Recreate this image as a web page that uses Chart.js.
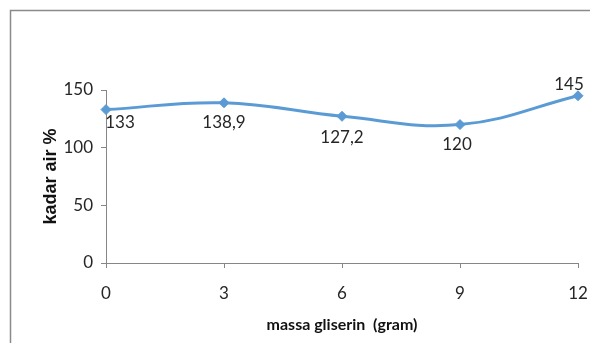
<!DOCTYPE html>
<html>
<head>
<meta charset="utf-8">
<script src="https://cdn.jsdelivr.net/npm/chart.js@4.4.1/dist/chart.umd.min.js"></script>
<style>
  html, body { margin: 0; padding: 0; background: #fff; }
  #wrap { width: 590px; height: 343px; position: relative; }
</style>
</head>
<body>
<div id="wrap"><canvas id="c" width="590" height="343"></canvas></div>
<script>
// glycerin mass (gram) on the x axis
const categories = ['0', '3', '6', '9', '12'];
// water content (%) for each glycerin mass
const kadarAir = [133, 138.9, 127.2, 120, 145];
// y axis ticks
const yTicks = [0, 50, 100, 150];

const BODY_FONT = 'Lato, "Open Sans", sans-serif';
const AXIS_GRAY = '#868686';
const BLUE = '#5b9bd5';

// where each value label sits relative to its point (dx, dy in px)
const labelOffsets = [[14, 13], [0, 20], [0, 21], [-3, 20], [-9, -11]];

const frameBorder = {
  id: 'frameBorder',
  beforeDraw(chart) {
    const ctx = chart.ctx;
    ctx.save();
    ctx.fillStyle = '#fff';
    ctx.fillRect(0, 0, chart.width, chart.height);
    ctx.strokeStyle = '#8a8a8a';
    ctx.lineWidth = 1.5;
    ctx.beginPath();
    ctx.moveTo(10.5, chart.height + 2);
    ctx.lineTo(10.5, 10.5);
    ctx.lineTo(chart.width + 2, 10.5);
    ctx.stroke();
    ctx.restore();
  }
};

const valueLabels = {
  id: 'valueLabels',
  afterDatasetsDraw(chart) {
    const ctx = chart.ctx;
    const meta = chart.getDatasetMeta(0);
    ctx.save();
    ctx.font = '17px ' + BODY_FONT;
    ctx.fillStyle = '#262626';
    ctx.textAlign = 'center';
    ctx.textBaseline = 'middle';
    meta.data.forEach((pt, i) => {
      const txt = String(kadarAir[i]).replace('.', ',');
      const [dx, dy] = labelOffsets[i];
      ctx.fillText(txt, pt.x + dx, pt.y + dy);
    });
    ctx.restore();
  }
};

new Chart(document.getElementById('c'), {
  type: 'line',
  data: {
    labels: categories,
    datasets: [{
      data: kadarAir,
      borderColor: BLUE,
      backgroundColor: BLUE,
      borderWidth: 3,
      tension: 0.4,
      pointStyle: 'rectRot',
      pointRadius: 5,
      pointHoverRadius: 5,
      pointBorderWidth: 1,
      fill: false
    }]
  },
  options: {
    responsive: false,
    animation: false,
    events: [],
    layout: { padding: { left: 40, top: 90, right: 12, bottom: 0 } },
    plugins: { legend: { display: false }, tooltip: { enabled: false } },
    scales: {
      x: {
        type: 'category',
        offset: false,
        afterFit(scale) { scale.height = 80; scale.paddingRight = 0; scale.paddingLeft = 0; },
        grid: { drawOnChartArea: false, drawTicks: true, tickLength: 5, color: AXIS_GRAY },
        border: { display: true, color: AXIS_GRAY, width: 1 },
        ticks: { color: '#262626', font: { family: BODY_FONT, size: 17 }, padding: 15, maxRotation: 0 },
        title: {
          display: true,
          text: 'massa gliserin  (gram)',
          color: '#111',
          font: { family: BODY_FONT, size: 16, weight: 'bold' },
          padding: { top: 0, bottom: 9 }
        }
      },
      y: {
        min: 0,
        max: 150,
        afterFit(scale) { scale.width = 66; },
        afterBuildTicks(scale) { scale.ticks = yTicks.map(v => ({ value: v })); },
        grid: { drawOnChartArea: false, drawTicks: true, tickLength: 5, color: AXIS_GRAY },
        border: { display: true, color: AXIS_GRAY, width: 1 },
        ticks: { color: '#262626', font: { family: BODY_FONT, size: 17 }, padding: 8 },
        title: {
          display: true,
          text: 'kadar air %',
          color: '#111',
          font: { family: '"Liberation Sans", Arial, sans-serif', size: 18, weight: 'bold' },
          padding: { top: 0, bottom: 0 }
        }
      }
    }
  },
  plugins: [frameBorder, valueLabels]
});
</script>
</body>
</html>
